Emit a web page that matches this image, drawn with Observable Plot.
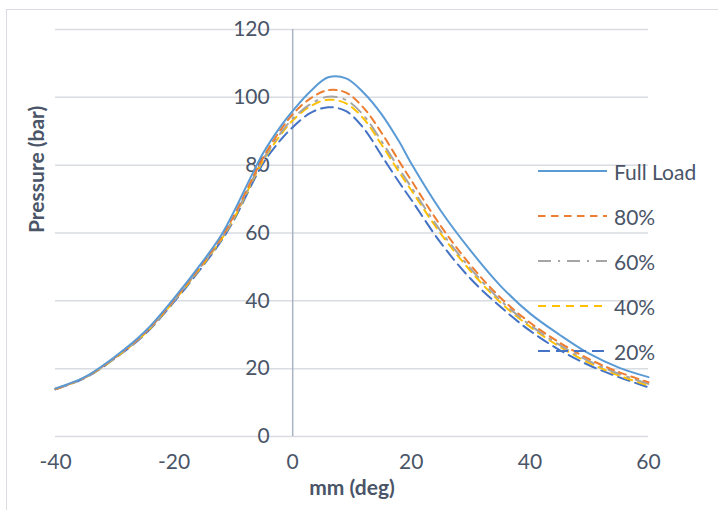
<!DOCTYPE html>
<html><head><meta charset="utf-8">
<script src="https://cdn.jsdelivr.net/npm/d3@7"></script>
<script src="https://cdn.jsdelivr.net/npm/@observablehq/plot@0.6"></script>
<style>
body{margin:0;background:#fff;}
#wrap{position:relative;width:718px;height:510px;overflow:hidden;font-family:Lato,"Open Sans",sans-serif;}
#frame{position:absolute;left:6px;top:9px;width:800px;height:600px;border-left:1.5px solid #d9dce1;border-top:1.5px solid #d9dce1;}
#chart{position:absolute;left:0;top:0;}
#legend{position:absolute;left:538px;top:0;}
.item{position:absolute;left:0;height:26px;display:flex;align-items:center;white-space:nowrap;}
.item span{margin-left:7px;font-size:21px;color:#4a5568;}
</style></head>
<body>
<div id="wrap"><div id="frame"></div><div id="chart"></div><div id="legend"></div></div>
<script>
// ---- data ----
const angle = [-40,-35,-30,-25,-20,-15,-12,-10,-5,-2,0,3,6,9,12,15,18,20,25,30,35,40,45,50,55,60];
const fullLoad = [14.2,17.6,23.5,30.8,40.8,52,59.5,66,83.5,91.5,96,101.8,105.9,105.6,101.3,95,86.8,80.5,66.5,54.8,44.5,36.3,30,24.4,20.3,17.5];
const load80 = [14.0,17.5,23.3,30.5,40.4,51.5,58.8,64.8,82.2,90.5,95,99.7,102.1,101.4,96.8,89.5,81,75.5,62,50.5,41,33.6,27.7,22.8,19,16];
const load60 = [14.0,17.4,23.2,30.3,40.1,51.2,58.5,64.3,81.7,89.5,93.7,98,100.2,99.2,94.6,87,78.8,73.5,60.5,49.5,40.2,32.9,27,22.2,18.5,15.5];
const load40 = [14.0,17.4,23.1,30.2,40,51,58.2,64,81.3,89,93.2,97.4,99.3,98.2,93.6,86,77.8,72.6,59.7,48.8,39.6,32.4,26.5,21.7,18,15];
const load20 = [13.9,17.3,23,30,39.7,50.6,57.8,63.5,80.5,87.5,91.2,95.4,97.1,95.9,90.8,82.8,74.8,69.8,57,46.5,38.3,31.2,25.5,21,17.5,14.5];
const seriesNames = ["Full Load","80%","60%","40%","20%"];
const xTicks = [-40,-20,0,20,40,60];
const yTicks = [0,20,40,60,80,100,120];
const xLabel = "mm (deg)";
const yLabel = "Pressure (bar)";

// ---- styles ----
const colors = ["#5B9BD5","#ED7D31","#A5A5A5","#FFC000","#4472C4"];
const dashes = [null,"7.5,5.5","13,7,2,7","8,6","12,6"];
const textColor = "#4a5568";

const seriesValues = [fullLoad, load80, load60, load40, load20];
const rows = [];
seriesNames.forEach((s, i) => angle.forEach((a, j) => rows.push({series: s, x: a, y: seriesValues[i][j]})));

const lineMarks = seriesNames.map((s, i) => Plot.line(rows.filter(d => d.series === s), {
  x: "x", y: "y", stroke: colors[i], strokeWidth: 2,
  strokeDasharray: dashes[i] || undefined, curve: "catmull-rom"
})).reverse();

const chart = Plot.plot({
  width: 718, height: 510,
  marginLeft: 55, marginRight: 70, marginTop: 29, marginBottom: 74,
  style: {fontFamily: "Lato, 'Open Sans', sans-serif", color: textColor, background: "transparent", overflow: "visible"},
  x: {domain: [-40, 60]},
  y: {domain: [0, 120], axis: null},
  marks: [
    Plot.ruleY(yTicks, {stroke: "#d9dce1", strokeWidth: 1.5}),
    Plot.ruleX([0], {y1: 0, y2: 120, stroke: "#aab3c4", strokeWidth: 1.5}),
    Plot.text(yTicks, {x: 0, y: d => d, text: d => String(d), textAnchor: "end", dx: -23, fontSize: 21, fill: textColor}),
    Plot.axisX(xTicks, {tickSize: 0, tickPadding: 18, fontSize: 21, label: null, color: textColor, tickFormat: d => String(d)}),
    Plot.text([xLabel], {frameAnchor: "bottom", dy: 58, fontSize: 21, fontWeight: "bold", fill: textColor}),
    Plot.text([yLabel], {frameAnchor: "left", dx: -18, rotate: -90, fontSize: 21, fontWeight: "bold", fill: textColor}),
    ...lineMarks
  ]
});
document.getElementById("chart").appendChild(chart);

// ---- legend ----
const legendY = [171, 216, 261, 306, 351];
const legend = document.getElementById("legend");
seriesNames.forEach((s, i) => {
  const item = document.createElement("div");
  item.className = "item";
  item.style.top = (legendY[i] - 13) + "px";
  const dash = dashes[i] ? ` stroke-dasharray="${dashes[i]}"` : "";
  item.innerHTML = `<svg width="69" height="6"><line x1="0" y1="3" x2="69" y2="3" stroke="${colors[i]}" stroke-width="2"${dash}/></svg><span>${s}</span>`;
  legend.appendChild(item);
});
</script>
</body></html>
